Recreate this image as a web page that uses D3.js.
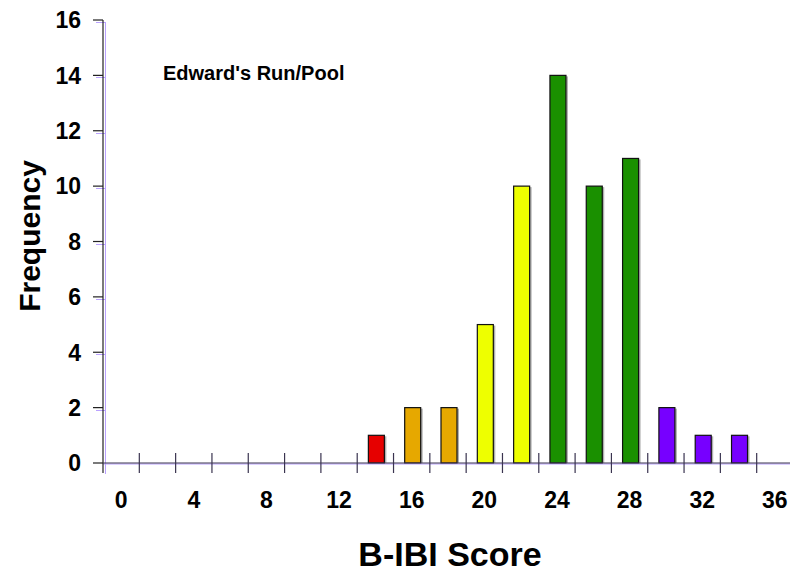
<!DOCTYPE html>
<html>
<head>
<meta charset="utf-8">
<script src="https://cdn.jsdelivr.net/npm/d3@7"></script>
<style>
  html, body { margin: 0; padding: 0; background: #fff; }
  svg { display: block; font-family: "Liberation Sans", Arial, sans-serif; font-weight: bold; }
</style>
</head>
<body>
<svg id="chart" width="801" height="576"></svg>
<script>
// B-IBI score bins (every 2 points) and how many samples fall in each
const scores = ["0","2","4","6","8","10","12","14","16","18","20","22","24","26","28","30","32","34","36"];
const frequency = [0,0,0,0,0,0,0,1,2,2,5,10,14,10,11,2,1,1,0];
// condition class colour for each bin
const classColor = ["#e60000","#e60000","#e60000","#e60000","#e60000","#e60000","#e60000","#e60000",
                    "#e6a800","#e6a800","#eeff00","#eeff00","#1a9000","#1a9000","#1a9000",
                    "#7700ff","#7700ff","#7700ff","#7700ff"];
const yTicks = [0,2,4,6,8,10,12,14,16];
const xLabelScores = ["0","4","8","12","16","20","24","28","32","36"];

const svg = d3.select("#chart");

const x = d3.scaleBand().domain(scores).range([103, 793]).padding(0);
const y = d3.scaleLinear().domain([0, 16]).range([463, 20]);
const step = x.step();
const barW = 16;

// shadows behind the bars
svg.append("g").selectAll("rect")
  .data(scores.filter((s, i) => frequency[i] > 0))
  .join("rect")
  .attr("x", s => x(s) + (step - barW) / 2 + 1 + 2)
  .attr("y", s => y(frequency[scores.indexOf(s)]) + 1)
  .attr("width", barW)
  .attr("height", s => y(0) - y(frequency[scores.indexOf(s)]) - 1)
  .attr("fill", "#b0b0b0");

// bars
svg.append("g").selectAll("rect")
  .data(scores.filter((s, i) => frequency[i] > 0))
  .join("rect")
  .attr("x", s => x(s) + (step - barW) / 2 + 1)
  .attr("y", s => y(frequency[scores.indexOf(s)]))
  .attr("width", barW)
  .attr("height", s => y(0) - y(frequency[scores.indexOf(s)]))
  .attr("fill", s => classColor[scores.indexOf(s)])
  .attr("stroke", "#111")
  .attr("stroke-width", 1.2);

// faint purple echo of the axes
const ghost = svg.append("g").attr("stroke", "#a98cff").attr("stroke-width", 1).attr("opacity", 0.8);
ghost.append("line").attr("x1", 105.5).attr("x2", 105.5).attr("y1", 22).attr("y2", 474);
ghost.selectAll("line.yt").data(yTicks.slice(1)).join("line").attr("class", "yt")
  .attr("x1", 96).attr("x2", 105).attr("y1", d => Math.round(y(d)) + 2.5).attr("y2", d => Math.round(y(d)) + 2.5);
ghost.append("line").attr("x1", 103).attr("x2", 790).attr("y1", 464).attr("y2", 464);

// y axis
const yAxis = svg.append("g").attr("stroke", "#222").attr("stroke-width", 1.2);
yAxis.append("line").attr("x1", 103).attr("x2", 103).attr("y1", y(16)).attr("y2", 473);
yAxis.selectAll("line.t").data(yTicks).join("line").attr("class", "t")
  .attr("x1", 93).attr("x2", 103).attr("y1", d => y(d)).attr("y2", d => y(d));

// x axis with cross ticks on bin boundaries
const xAxis = svg.append("g").attr("stroke", "#3a3450").attr("stroke-width", 1.2);
xAxis.append("line").attr("x1", 103).attr("x2", 790).attr("y1", y(0)).attr("y2", y(0));
xAxis.selectAll("line.t").data(scores.slice(1)).join("line").attr("class", "t")
  .attr("x1", s => x(s)).attr("x2", s => x(s)).attr("y1", y(0) - 10).attr("y2", y(0) + 10);

// tick labels
svg.append("g").selectAll("text").data(yTicks).join("text")
  .attr("x", 81).attr("y", d => y(d)).attr("dy", "0.36em")
  .attr("text-anchor", "end").attr("font-size", 23).attr("fill", "#000")
  .text(d => d);

svg.append("g").selectAll("text").data(xLabelScores).join("text")
  .attr("x", s => x(s) + step / 2).attr("y", 508)
  .attr("text-anchor", "middle").attr("font-size", 23).attr("fill", "#000")
  .text(s => s);

// titles
svg.append("text").attr("x", 163).attr("y", 80)
  .attr("font-size", 20).attr("fill", "#000").text("Edward's Run/Pool");

svg.append("text").attr("x", 450).attr("y", 566)
  .attr("text-anchor", "middle").attr("font-size", 34).attr("fill", "#000").text("B-IBI Score");

svg.append("text").attr("transform", "translate(40,236) rotate(-90)")
  .attr("text-anchor", "middle").attr("font-size", 30).attr("fill", "#000").text("Frequency");
</script>
</body>
</html>
